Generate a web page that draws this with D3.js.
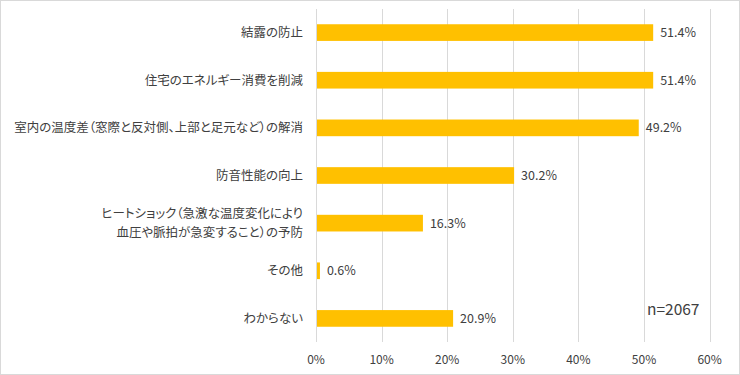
<!DOCTYPE html>
<html>
<head>
<meta charset="utf-8">
<title>Bar chart</title>
<script src="https://d3js.org/d3.v7.min.js"></script>
<style>
  body { margin: 0; background: #fff; }
  text { font-family: "Noto Sans CJK JP", "Noto Sans", sans-serif; fill: #404040; }
  .cat { font-feature-settings: "palt"; }
</style>
</head>
<body>
<script>
  var width = 740, height = 375;

  // data
  var categories = [
    ["結露の防止"],
    ["住宅のエネルギー消費を削減"],
    ["室内の温度差（窓際と反対側、上部と足元など）の解消"],
    ["防音性能の向上"],
    ["ヒートショック（急激な温度変化により", "血圧や脈拍が急変すること）の予防"],
    ["その他"],
    ["わからない"]
  ];
  var values = [51.4, 51.4, 49.2, 30.2, 16.3, 0.6, 20.9];
  var ticks = [0, 10, 20, 30, 40, 50, 60];
  var note = "n=2067";

  var margin = {top: 9, right: 30, bottom: 33, left: 316};

  var svg = d3.select("body").append("svg")
    .attr("width", width).attr("height", height);

  // outer border
  svg.append("rect")
    .attr("x", 0.5).attr("y", 0.5)
    .attr("width", width - 1).attr("height", height - 1)
    .attr("fill", "#fff").attr("stroke", "#d9d9d9");

  var x = d3.scaleLinear().domain([0, 60]).range([margin.left, 709.6]);
  var y = d3.scaleBand().domain(d3.range(values.length))
    .range([margin.top, height - margin.bottom]).paddingInner(0.65).paddingOuter(0.32);

  // grid lines
  svg.append("g").selectAll("line")
    .data(ticks).enter().append("line")
    .attr("x1", function(d){ return Math.round(x(d)) + 0.5; })
    .attr("x2", function(d){ return Math.round(x(d)) + 0.5; })
    .attr("y1", margin.top).attr("y2", height - margin.bottom)
    .attr("stroke", "#d9d9d9").attr("stroke-width", 1);

  // tick labels
  svg.append("g").selectAll("text")
    .data(ticks).enter().append("text")
    .attr("x", function(d){ return x(d); })
    .attr("y", 364)
    .attr("text-anchor", "middle")
    .attr("font-size", "12px")
    .text(function(d){ return d + "%"; });

  // bars
  svg.append("g").selectAll("rect")
    .data(values).enter().append("rect")
    .attr("x", x(0) + 1)
    .attr("y", function(d, i){ return y(i); })
    .attr("width", function(d){ return x(d) - x(0) - 1; })
    .attr("height", y.bandwidth())
    .attr("fill", "#ffc000");

  // value labels
  svg.append("g").selectAll("text")
    .data(values).enter().append("text")
    .attr("x", function(d){ return x(d) + 7; })
    .attr("y", function(d, i){ return y(i) + y.bandwidth() / 2; })
    .attr("dy", "0.35em")
    .attr("font-size", "12.5px")
    .text(function(d){ return d.toFixed(1) + "%"; });

  // category labels, one text per line
  var lineH = 18.3;
  categories.forEach(function(lines, i){
    var cy = y(i) + y.bandwidth() / 2;
    lines.forEach(function(s, k){
      var t = svg.append("text")
        .attr("class", "cat")
        .attr("x", 303)
        .attr("y", cy + (k - (lines.length - 1) / 2) * lineH)
        .attr("dy", "0.35em")
        .attr("text-anchor", "end")
        .attr("font-size", "12.5px")
        .text(s);
      var w = t.node().getComputedTextLength();
      if (w > 296) t.attr("textLength", 296).attr("lengthAdjust", "spacingAndGlyphs");
    });
  });

  // note
  svg.append("text")
    .attr("x", 647).attr("y", 315)
    .attr("font-size", "15.5px")
    .text(note);
</script>
</body>
</html>
